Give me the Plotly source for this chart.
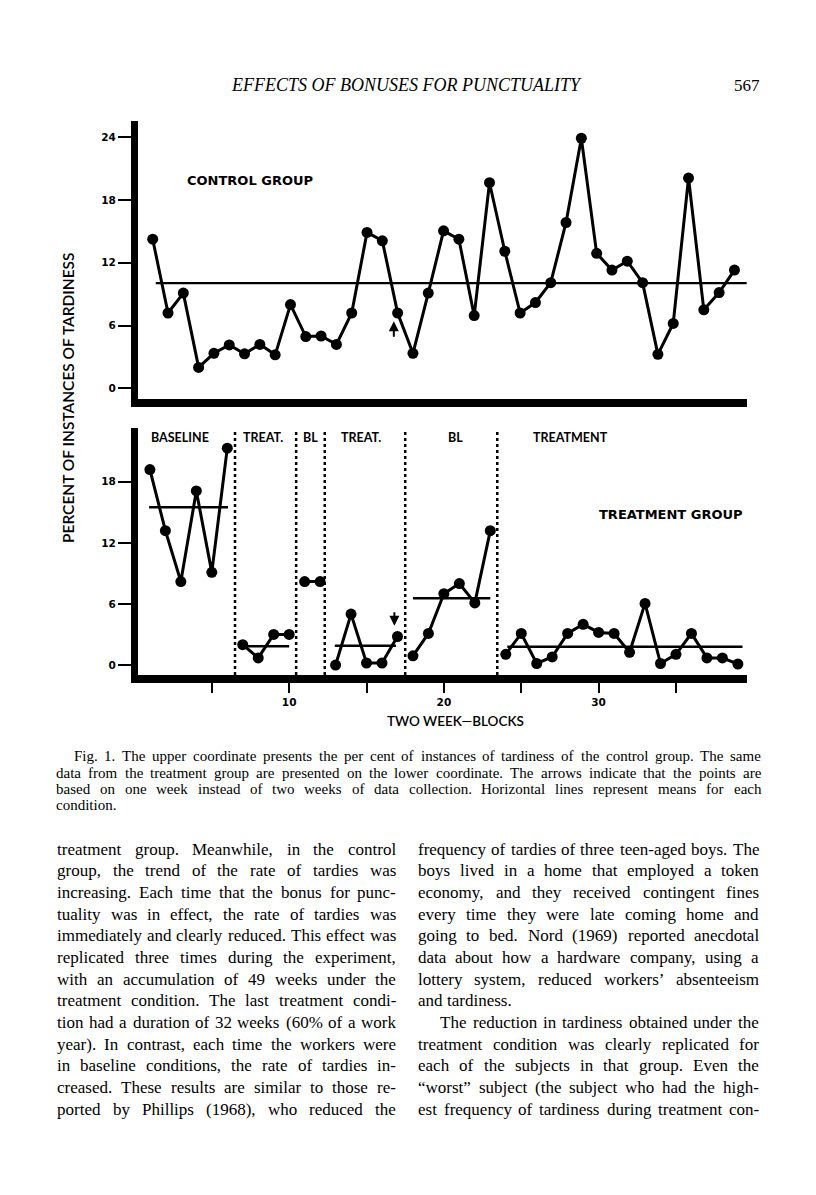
import plotly.graph_objects as go

W, H = 816, 1195
PAGE_MARGIN = 8  # default body margin of the html page

# ---- data ----
blocks = list(range(1, 40))
control = [14.25, 7.2, 9.1, 2.0, 3.35, 4.15, 3.3, 4.2, 3.2, 8.0,
           4.95, 5.0, 4.2, 7.2, 14.9, 14.1, 7.2, 3.35, 9.1, 15.05,
           14.25, 6.95, 19.65, 13.1, 7.2, 8.2, 10.1, 15.85, 23.9, 12.9,
           11.3, 12.15, 10.1, 3.25, 6.2, 20.1, 7.5, 9.15, 11.3]
treatment = [19.2, 13.2, 8.2, 17.1, 9.1, 21.3,
             2.0, 0.7, 3.0, 3.0,
             8.2, 8.2,
             0.0, 5.0, 0.2, 0.2, 2.8,
             0.9, 3.1, 7.0, 8.0, 6.1, 13.2,
             1.05, 3.1, 0.15, 0.8, 3.1, 4.0, 3.2, 3.1, 1.25, 6.05,
             0.15, 1.05, 3.1, 0.7, 0.7, 0.1]
control_mean = 10.05
control_mean_span = [1.2, 39.8]
phase_names = ["BASELINE", "TREAT.", "BL", "TREAT.", "BL", "TREATMENT"]
phase_first = [1, 7, 11, 13, 18, 24]
phase_last = [6, 10, 12, 17, 23, 39]
phase_means = [15.5, 1.85, 8.2, 1.9, 6.55, 1.8]
mean_from = [0.95, 7.0, 11.0, 12.95, 18.0, 24.1]
mean_to = [6.05, 10.0, 12.0, 16.9, 23.0, 39.3]
phase_breaks = [6.5, 10.45, 12.3, 17.5, 23.45]
one_week_block = 17
y_ticks = [0, 6, 12, 18, 24]
y2_ticks = [0, 6, 12, 18]
x_ticks = [5, 10, 15, 20, 25, 30, 35]
x_ticklabels = ["", "10", "", "20", "", "30", ""]


def px(x):
    return (x - PAGE_MARGIN) / W


def py(y):
    return 1 - (y - PAGE_MARGIN) / H


fig = go.Figure()

# control group
fig.add_trace(go.Scatter(x=control_mean_span, y=[control_mean] * 2, mode="lines",
                         line=dict(color="black", width=2.2), xaxis="x", yaxis="y"))
fig.add_trace(go.Scatter(x=blocks, y=control, mode="lines+markers",
                         line=dict(color="black", width=3),
                         marker=dict(color="black", size=11),
                         xaxis="x", yaxis="y", cliponaxis=False))

# treatment group, one broken line per phase
tx, ty, mx, my = [], [], [], []
for i in range(len(phase_names)):
    for b in range(phase_first[i], phase_last[i] + 1):
        tx.append(b)
        ty.append(treatment[b - 1])
    tx.append(None)
    ty.append(None)
    mx += [mean_from[i], mean_to[i], None]
    my += [phase_means[i], phase_means[i], None]

fig.add_trace(go.Scatter(x=mx, y=my, mode="lines", line=dict(color="black", width=2.5),
                         xaxis="x2", yaxis="y2"))
fig.add_trace(go.Scatter(x=tx, y=ty, mode="lines+markers",
                         line=dict(color="black", width=3),
                         marker=dict(color="black", size=11),
                         xaxis="x2", yaxis="y2", cliponaxis=False))

shapes = []
for b in phase_breaks:
    shapes.append(dict(type="line", xref="x2", yref="y2 domain", x0=b, x1=b, y0=0, y1=0.99,
                       line=dict(color="black", width=2.5, dash="dot")))

tickfont = dict(family="DejaVu Sans", size=10.5, color="black", weight="bold")
common = dict(showgrid=False, zeroline=False, showline=True, linecolor="black")

fig.update_layout(
    width=W, height=H,
    margin=dict(l=0, r=0, t=0, b=0),
    paper_bgcolor="white", plot_bgcolor="white",
    showlegend=False,
    shapes=shapes,
    xaxis=dict(domain=[px(138), px(747)], range=[0.04, 39.82], anchor="y",
               linewidth=8, showticklabels=False, ticks="", **common),
    yaxis=dict(domain=[py(399), py(121)], range=[-1.02, 25.55], anchor="x",
               linewidth=7, tickvals=y_ticks, ticks="outside", ticklen=13, tickwidth=2,
               tickcolor="black", tickfont=tickfont, **common),
    xaxis2=dict(domain=[px(138), px(747)], range=[0.23, 39.59], anchor="y2",
                linewidth=8, tickvals=x_ticks, ticktext=x_ticklabels, ticks="outside",
                ticklen=10, tickwidth=2, tickcolor="black", tickfont=tickfont, **common),
    yaxis2=dict(domain=[py(675), py(428)], range=[-0.98, 23.28], anchor="x2",
                linewidth=7, tickvals=y2_ticks, ticks="outside", ticklen=13, tickwidth=2,
                tickcolor="black", tickfont=tickfont, **common),
)

ann = []


def label(text, x, y, font, **kw):
    ann.append(dict(text=text, x=px(x), y=py(y), xref="paper", yref="paper",
                    xanchor=kw.pop("xanchor", "center"), yanchor="middle",
                    showarrow=False, font=font, **kw))


heavy = dict(family="DejaVu Sans", size=13, color="black", weight="bold")
gill = dict(family="Lato", size=12.5, color="black", weight="bold")

label("CONTROL GROUP", 250, 180, heavy)
label("TREATMENT GROUP", 671, 515, heavy)
label_px = [180, 263, 310, 361, 455, 570]
for name, lx in zip(phase_names, label_px):
    label(name, lx, 438, gill)
label("PERCENT OF INSTANCES OF TARDINESS", 68, 398,
      dict(family="Lato", size=15.5, color="black", weight=600), textangle=-90)
label("TWO WEEK\u2014BLOCKS", 455, 721, dict(family="Lato", size=13.5, color="black", weight=600))

# arrows marking one-week blocks
ann.append(dict(x=one_week_block - 0.25, y=6.4, xref="x", yref="y", ax=0, ay=17,
                showarrow=True, arrowhead=2, arrowsize=1, arrowwidth=2, arrowcolor="black", text=""))
ann.append(dict(x=one_week_block - 0.2, y=3.85, xref="x2", yref="y2", ax=0, ay=-15,
                showarrow=True, arrowhead=2, arrowsize=1, arrowwidth=2, arrowcolor="black", text=""))

# page header
serif = "Liberation Serif"
label("EFFECTS OF BONUSES FOR PUNCTUALITY", 406, 85,
      dict(family=serif, size=18, color="black", style="italic"))
label("567", 762, 85, dict(family=serif, size=17, color="black"), xanchor="right")

# justified text set word by word (Times metrics)
TW = {" ": 250, "!": 333, '"': 408, "%": 833, "'": 180, "(": 333, ")": 333, ",": 250,
      "-": 333, ".": 250, ":": 278, ";": 278, "\u2019": 333, "\u201c": 444, "\u201d": 444,
      "A": 722, "B": 667, "C": 667, "D": 722, "E": 611, "F": 556, "G": 722, "H": 722,
      "I": 333, "J": 389, "K": 722, "L": 611, "M": 889, "N": 722, "O": 722, "P": 556,
      "Q": 722, "R": 667, "S": 556, "T": 611, "U": 722, "V": 722, "W": 944, "X": 722,
      "Y": 722, "Z": 611, "a": 444, "b": 500, "c": 444, "d": 500, "e": 444, "f": 333,
      "g": 500, "h": 500, "i": 278, "j": 278, "k": 500, "l": 278, "m": 778, "n": 500,
      "o": 500, "p": 500, "q": 500, "r": 333, "s": 389, "t": 278, "u": 500, "v": 500,
      "w": 722, "x": 500, "y": 500, "z": 444}


def tw(s, size):
    return sum(TW.get(c, 500) for c in s) * size / 1000.0


def set_line(line, x0, x1, y, size, justify=True, indent=0):
    words = line.split()
    widths = [tw(w, size) for w in words]
    start = x0 + indent
    gap = 0.25 * size
    if justify and len(words) > 1:
        gap = (x1 - start - sum(widths)) / (len(words) - 1)
    x = start
    for w, wd in zip(words, widths):
        label(w, x, y, dict(family=serif, size=size, color="black"),
              xanchor="left", borderpad=0)
        x += wd + gap


caption = [
    "Fig. 1. The upper coordinate presents the per cent of instances of tardiness of the control group. The same",
    "data from the treatment group are presented on the lower coordinate. The arrows indicate that the points are",
    "based on one week instead of two weeks of data collection. Horizontal lines represent means for each",
    "condition.",
]
cap_y = [756, 772.5, 789, 805]
for i, line in enumerate(caption):
    set_line(line, 55, 760, cap_y[i], 15, justify=(i < 3), indent=18 if i == 0 else 0)

left_col = [
    "treatment group. Meanwhile, in the control",
    "group, the trend of the rate of tardies was",
    "increasing. Each time that the bonus for punc-",
    "tuality was in effect, the rate of tardies was",
    "immediately and clearly reduced. This effect was",
    "replicated three times during the experiment,",
    "with an accumulation of 49 weeks under the",
    "treatment condition. The last treatment condi-",
    "tion had a duration of 32 weeks (60% of a work",
    "year). In contrast, each time the workers were",
    "in baseline conditions, the rate of tardies in-",
    "creased. These results are similar to those re-",
    "ported by Phillips (1968), who reduced the",
]
right_col = [
    "frequency of tardies of three teen-aged boys. The",
    "boys lived in a home that employed a token",
    "economy, and they received contingent fines",
    "every time they were late coming home and",
    "going to bed. Nord (1969) reported anecdotal",
    "data about how a hardware company, using a",
    "lottery system, reduced workers\u2019 absenteeism",
    "and tardiness.",
    "The reduction in tardiness obtained under the",
    "treatment condition was clearly replicated for",
    "each of the subjects in that group. Even the",
    "\u201cworst\u201d subject (the subject who had the high-",
    "est frequency of tardiness during treatment con-",
]
for i, line in enumerate(left_col):
    set_line(line, 56, 395, 849 + 21.67 * i, 17)
for i, line in enumerate(right_col):
    set_line(line, 417, 758, 849 + 21.67 * i, 17, justify=(i != 7),
             indent=22 if i == 8 else 0)

fig.update_layout(annotations=ann)
fig.write_html("out.html")
